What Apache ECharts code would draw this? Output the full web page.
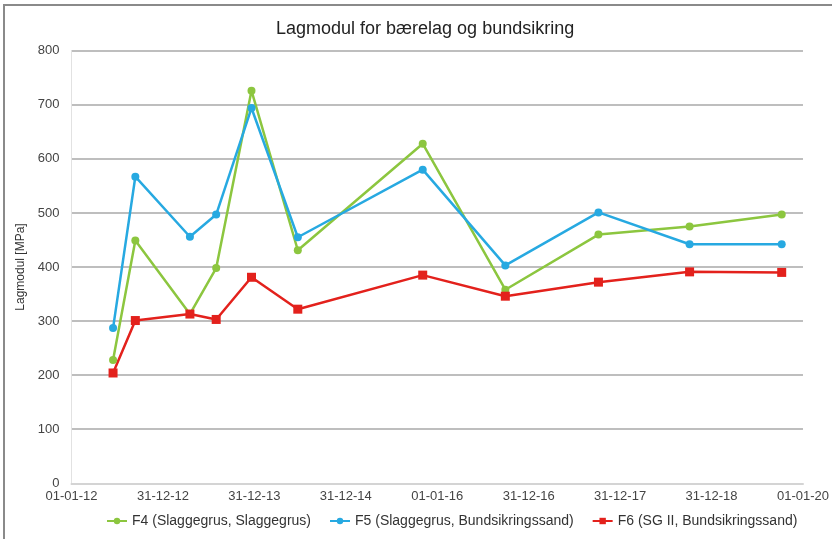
<!DOCTYPE html>
<html>
<head>
<meta charset="utf-8">
<script src="https://cdn.jsdelivr.net/npm/echarts@6/dist/echarts.min.js"></script>
<style>
  html, body { margin: 0; padding: 0; background: #fff; }
  #chart { width: 832px; height: 539px; }
</style>
</head>
<body>
<div id="chart"></div>
<script>
const dates = ['2012-06-15', '2012-09-12', '2013-04-18', '2013-08-01', '2013-12-20', '2014-06-23',
               '2015-11-04', '2016-09-29', '2017-10-06', '2018-10-05', '2019-10-08'];
const f4 = [228, 449, 313, 398, 726, 431, 628, 358, 460, 475, 497];
const f5 = [287, 567, 456, 497, 694, 455, 580, 403, 501, 442, 442];
const f6 = [204, 301, 313, 303, 381, 322, 385, 346, 372, 391, 390];
const seriesNames = ['F4 (Slaggegrus, Slaggegrus)', 'F5 (Slaggegrus, Bundsikringssand)', 'F6 (SG II, Bundsikringssand)'];
const yTicks = [0, 100, 200, 300, 400, 500, 600, 700, 800];

const DAY = 86400000;
const start = Date.UTC(2012, 0, 1);
// x axis runs in days from 01-01-12, Excel-style 365.25 day steps
const toDays = s => (Date.parse(s + 'T00:00:00Z') - start) / DAY;
const pad = n => String(n).padStart(2, '0');
const fmtDate = v => {
  const d = new Date(start + Math.floor(v + 1e-6) * DAY);
  return pad(d.getUTCDate()) + '-' + pad(d.getUTCMonth() + 1) + '-' + pad(d.getUTCFullYear() % 100);
};

const colors = ['#8cc63f', '#27a9e1', '#e3211c'];
const font = 'Liberation Sans, Arial, sans-serif';

function mk(name, vals, color, symbol, size) {
  return {
    name: name,
    type: 'line',
    data: vals.map((v, i) => [toDays(dates[i]), v]),
    symbol: symbol,
    symbolSize: size,
    showAllSymbol: true,
    lineStyle: { color: color, width: 2.5 },
    itemStyle: { color: color },
    z: 3
  };
}

const chart = echarts.init(document.getElementById('chart'), null, { renderer: 'canvas' });
chart.setOption({
  animation: false,
  backgroundColor: '#fff',
  textStyle: { fontFamily: font },
  title: {
    text: 'Lagmodul for bærelag og bundsikring',
    left: 271,
    top: 15,
    textStyle: { fontSize: 18, fontWeight: 'normal', color: '#222', fontFamily: font }
  },
  graphic: [{
    type: 'rect',
    shape: { x: 4, y: 5, width: 900, height: 600 },
    style: { fill: 'none', stroke: '#8a8a8a', lineWidth: 2 },
    silent: true
  }],
  grid: { left: 71.5, right: 27.5, top: 50.7, bottom: 55.7, containLabel: false },
  legend: {
    bottom: 6,
    left: 101,
    itemGap: 18,
    itemWidth: 20,
    itemHeight: 8,
    textStyle: { fontSize: 14, color: '#333', fontFamily: font },
    data: seriesNames
  },
  xAxis: {
    type: 'value',
    min: 0,
    max: toDays('2020-01-01'),
    interval: 365.25,
    axisLine: { show: true, lineStyle: { color: '#d4d4d4', width: 2 } },
    axisTick: { show: false },
    splitLine: { show: false },
    axisLabel: {
      formatter: fmtDate,
      fontSize: 13,
      color: '#444',
      margin: 7,
      showMinLabel: true,
      showMaxLabel: true
    }
  },
  yAxis: {
    type: 'value',
    min: yTicks[0],
    max: yTicks[yTicks.length - 1],
    interval: yTicks[1] - yTicks[0],
    name: 'Lagmodul [MPa]',
    nameLocation: 'middle',
    nameGap: 32,
    nameTextStyle: { fontSize: 12, color: '#333', fontFamily: font },
    axisLine: { show: true, lineStyle: { color: '#e2e2e2', width: 1 } },
    axisTick: { show: false },
    splitLine: { lineStyle: { color: '#a8a8a8', width: 1.5 } },
    axisLabel: { fontSize: 13, color: '#444', margin: 12 }
  },
  series: [
    mk(seriesNames[0], f4, colors[0], 'circle', 8),
    mk(seriesNames[1], f5, colors[1], 'circle', 8),
    mk(seriesNames[2], f6, colors[2], 'rect', 9)
  ]
});
</script>
</body>
</html>
